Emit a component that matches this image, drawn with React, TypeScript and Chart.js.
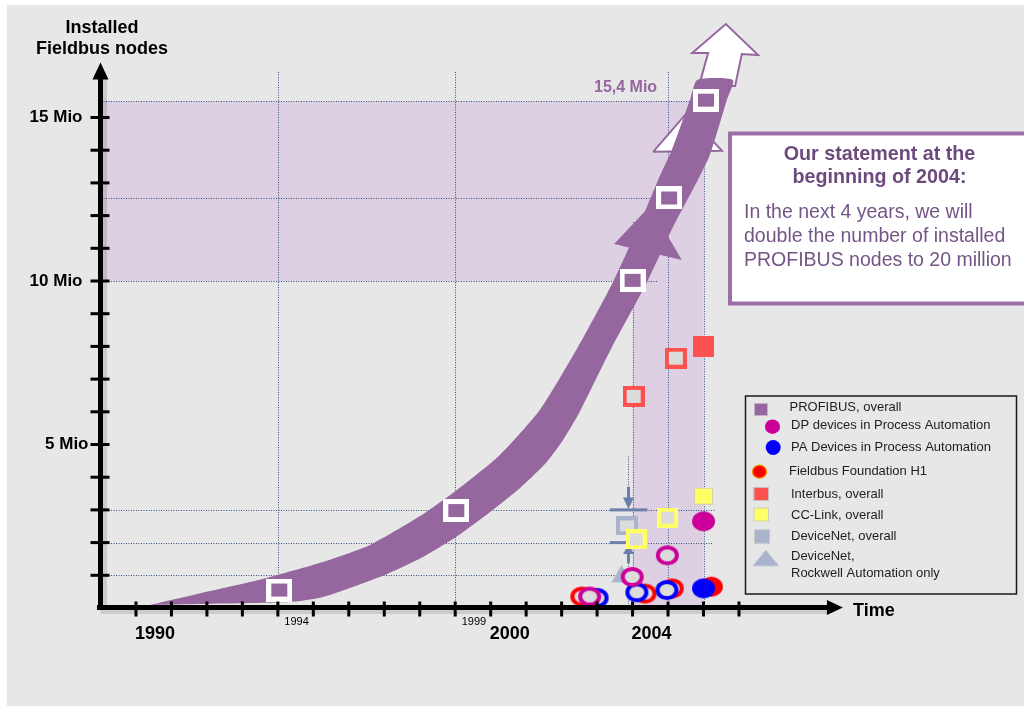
import React, { useEffect, useRef } from 'react';
import { Chart, registerables } from 'chart.js';

Chart.register(...registerables);

const W = 1024;
const H = 713;

// ---------------- data ----------------
const profibusYears = [1994.04, 1999.03, 2004.0, 2005.03, 2006.07];
const profibusNodes = [0.55, 2.98, 10.02, 12.54, 15.53];

const interbusYears = [2004.03, 2005.22, 2006.0];
const interbusNodes = [6.47, 7.64, 8.0];

const ccLinkYears = [2004.1, 2004.99, 2006.0];
const ccLinkNodes = [2.1, 2.76, 3.42];

const deviceNetYears = [2003.84];
const deviceNetNodes = [2.51];

const rockwellYears = [2003.69];
const rockwellNodes = [0.96];

const dpYears = [2002.79, 2003.99, 2004.98, 2006.0];
const dpNodes = [0.35, 0.95, 1.61, 2.65];

const paYears = [2003.0, 2004.12, 2004.97, 2006.0];
const paNodes = [0.31, 0.48, 0.55, 0.6];

const ffYears = [2002.57, 2004.35, 2005.12, 2006.22];
const ffNodes = [0.35, 0.44, 0.6, 0.65];

// growth arrow (band) outline: upper edge bottom->top, lower edge top->bottom
const bandUpperYears = [1990.39, 1992.09, 1993.69, 1995.19, 1996.6, 1998.01, 1999.05, 2000.26, 2001.39, 2002.46, 2003.45, 2004.21, 2004.72, 2005.11, 2005.62, 2005.82];
const bandUpperNodes = [0.09, 0.52, 0.92, 1.38, 1.93, 2.81, 3.61, 4.68, 6.06, 7.98, 9.97, 11.77, 13.09, 14.01, 15.54, 16.15];
const bandLowerYears = [2006.83, 2006.66, 2006.18, 2005.84, 2005.14, 2004.41, 2003.42, 2002.52, 2002.04, 2001.53, 2000.83, 2000.06, 1999.02, 1998.09, 1997.08, 1996.03, 1995.19, 1994.34, 1991.8, 1990.39];
const bandLowerNodes = [16.15, 15.54, 13.85, 13.09, 11.65, 9.97, 7.98, 6.02, 5.14, 4.4, 3.67, 3.0, 2.17, 1.56, 1.04, 0.61, 0.31, 0.18, 0.12, 0.09];

// white arrow tip on top of the band
const tipYears = [2005.87, 2006.13, 2005.68, 2006.63, 2007.54, 2007.08, 2006.89, 2005.87];
const tipNodes = [15.96, 16.97, 16.97, 17.86, 16.91, 16.94, 15.96, 15.96];

// target arrowheads hidden behind the band
const targetHeadYears = [2004.58, 2005.53, 2006.52, 2004.58];
const targetHeadNodes = [13.95, 15.14, 13.98, 13.95];
const innerHeadYears = [2003.48, 2004.49, 2005.39, 2003.48];
const innerHeadNodes = [11.13, 12.29, 10.64, 11.13];

// axes / guides
const xTickYears = [1990, 1991, 1992, 1993, 1994, 1995, 1996, 1997, 1998, 1999, 2000, 2001, 2002, 2003, 2004, 2005, 2006, 2007];
const yTickValues = [1, 2, 3, 4, 5, 6, 7, 8, 9, 10, 11, 12, 13, 14, 15];
const yLabelValues = [5, 10, 15];
const yLabelTexts = ['5 Mio', '10 Mio', '15 Mio'];
const bigYearValues = [1990, 2000, 2004];
const bigYearTexts = ['1990', '2000', '2004'];
const smallYearValues = [1994, 1999];
const smallYearTexts = ['1994', '1999'];
const hGuideValues = [15.5, 12.55, 10, 3, 2, 1];
const hGuideEnds = [2006.0, 2005.0, 2004.72, 2006.32, 2006.27, 2003.7];
const vGuideYears = [1994, 1999, 2004, 2005, 2006];
const vGuideTops = [16.39, 16.39, 11.8, 16.39, 15.5];
const peakLabel = '15,4 Mio';
const deviceNetSpanYear = 2003.88;
const deviceNetSpan = [2.0, 3.0];

const legendLabels = [
  'PROFIBUS, overall',
  'DP devices in Process Automation',
  'PA Devices in Process Automation',
  'Fieldbus Foundation H1',
  'Interbus, overall',
  'CC-Link, overall',
  'DeviceNet, overall',
  'DeviceNet,',
  'Rockwell Automation only',
];
const statementTitle = ['Our statement at the', 'beginning of 2004:'];
const statementBody = ['In the next 4 years, we will', 'double the number of installed', 'PROFIBUS nodes to 20 million'];

// ---------------- styles ----------------
const BG = '#e7e7e7';
const PURPLE = '#96679f';
const SHADE = '#ddd0e3';
const GRID = '#34507f';
const STEEL = '#6b7fa9';
const IB = '#ff5050';
const CC = '#ffff66';
const DN = '#a9b3cc';
const DP = '#cc0099';
const PA = '#0000ff';
const FF = '#ff0000';
const HOLLOW = '#dcdcdc';
const FONT = '"Liberation Sans", Arial, Helvetica, sans-serif';

const zip = (xs: number[], ys: number[]) => xs.map((x, i) => ({ x, y: ys[i] }));

function makeEllipse(w: number, h: number, fill: string, stroke: string | null, lw: number) {
  const c = document.createElement('canvas');
  c.width = w + 2;
  c.height = h + 2;
  const g = c.getContext('2d')!;
  const inset = stroke ? lw / 2 : 0;
  g.beginPath();
  g.ellipse(c.width / 2, c.height / 2, w / 2 - inset, h / 2 - inset, 0, 0, Math.PI * 2);
  g.fillStyle = fill;
  g.fill();
  if (stroke) {
    g.lineWidth = lw;
    g.strokeStyle = stroke;
    g.stroke();
  }
  return c;
}

function makeBox(w: number, h: number, fill: string, stroke: string | null, lw: number) {
  const c = document.createElement('canvas');
  c.width = w;
  c.height = h;
  const g = c.getContext('2d')!;
  g.fillStyle = fill;
  g.fillRect(0, 0, w, h);
  if (stroke) {
    g.strokeStyle = stroke;
    g.lineWidth = lw;
    g.strokeRect(lw / 2, lw / 2, w - lw, h - lw);
  }
  return c;
}

const lastFilled = (n: number, hollow: any, filled: any) =>
  Array.from({ length: n }, (_, i) => (i === n - 1 ? filled : hollow));

const decor = {
  id: 'decor',
  beforeDraw(chart: any) {
    const ctx = chart.ctx;
    ctx.save();
    ctx.fillStyle = '#ffffff';
    ctx.fillRect(0, 0, W, H);
    ctx.fillStyle = BG;
    ctx.fillRect(7, 5, W - 7, 701);
    ctx.restore();
  },
  beforeDatasetsDraw(chart: any) {
    const ctx = chart.ctx;
    const xs = chart.scales.x;
    const ys = chart.scales.y;
    const px = (v: number) => xs.getPixelForValue(v);
    const py = (v: number) => ys.getPixelForValue(v);
    ctx.save();
    // shaded regions
    ctx.fillStyle = SHADE;
    ctx.fillRect(px(1989) + 2, py(15.5), px(2006) - px(1989) - 2, py(10) - py(15.5));
    ctx.fillRect(px(2004), py(15.5), px(2006) - px(2004), py(0) - py(15.5));
    // dotted guides
    ctx.strokeStyle = GRID;
    ctx.lineWidth = 1;
    ctx.setLineDash([1, 1.5]);
    hGuideValues.forEach((v, i) => {
      const y = Math.round(py(v)) + 0.5;
      ctx.beginPath();
      ctx.moveTo(px(1989) + 3, y);
      ctx.lineTo(px(hGuideEnds[i]), y);
      ctx.stroke();
    });
    vGuideYears.forEach((yr, i) => {
      const x = Math.round(px(yr)) + 0.5;
      ctx.beginPath();
      ctx.moveTo(x, py(vGuideTops[i]));
      ctx.lineTo(x, py(0));
      ctx.stroke();
    });
    // DeviceNet range annotation
    const dx = Math.round(px(deviceNetSpanYear)) + 0.5;
    ctx.beginPath();
    ctx.moveTo(dx, py(4.63));
    ctx.lineTo(dx, py(3.71));
    ctx.moveTo(dx, py(1.37));
    ctx.lineTo(dx, py(0.04));
    ctx.stroke();
    ctx.setLineDash([]);
    ctx.strokeStyle = STEEL;
    ctx.fillStyle = STEEL;
    ctx.lineWidth = 3;
    ctx.beginPath();
    ctx.moveTo(dx, py(3.71));
    ctx.lineTo(dx, py(3.36));
    ctx.moveTo(dx, py(1.67));
    ctx.lineTo(dx, py(1.37));
    ctx.stroke();
    ctx.beginPath();
    ctx.moveTo(dx - 5.5, py(3.38));
    ctx.lineTo(dx + 5.5, py(3.38));
    ctx.lineTo(dx, py(deviceNetSpan[1]) - 1);
    ctx.closePath();
    ctx.fill();
    ctx.beginPath();
    ctx.moveTo(dx - 5.5, py(1.65));
    ctx.lineTo(dx + 5.5, py(1.65));
    ctx.lineTo(dx, py(deviceNetSpan[0]) + 2);
    ctx.closePath();
    ctx.fill();
    ctx.fillRect(px(2003.36), py(deviceNetSpan[1]) - 1.5, px(2004.42) - px(2003.36), 3);
    ctx.fillRect(px(2003.36), py(deviceNetSpan[0]) - 1.5, px(2004.0) - px(2003.36), 3);
    ctx.restore();
  },
  afterDatasetsDraw(chart: any) {
    const ctx = chart.ctx;
    const xs = chart.scales.x;
    const ys = chart.scales.y;
    const px = (v: number) => xs.getPixelForValue(v);
    const py = (v: number) => ys.getPixelForValue(v);
    const ax = px(1989);
    const ay = py(0) - 0.5;
    const tipX = px(2009.93);
    ctx.save();
    // shadows
    ctx.fillStyle = 'rgba(0,0,0,0.12)';
    ctx.fillRect(ax + 2.5, py(16.2), 4, ay - py(16.2));
    ctx.fillRect(ax, ay + 2.5, tipX - 16 - ax, 4);
    // axes
    ctx.fillStyle = '#000';
    ctx.fillRect(ax - 2.5, py(16.2), 5, ay - py(16.2) + 2.5);
    ctx.beginPath();
    ctx.moveTo(ax, py(16.68));
    ctx.lineTo(ax - 8, py(16.68) + 17);
    ctx.lineTo(ax + 8, py(16.68) + 17);
    ctx.closePath();
    ctx.fill();
    ctx.fillRect(97, ay - 2.5, tipX - 15 - 97, 5);
    ctx.beginPath();
    ctx.moveTo(tipX, ay);
    ctx.lineTo(tipX - 16, ay - 7.5);
    ctx.lineTo(tipX - 16, ay + 7.5);
    ctx.closePath();
    ctx.fill();
    yTickValues.forEach((v) => ctx.fillRect(ax - 10, py(v) - 1.5, 19, 3));
    xTickYears.forEach((yr) => ctx.fillRect(px(yr) - 1.5, ay - 6, 3, 15));
    // axis labels
    ctx.textBaseline = 'middle';
    ctx.font = `bold 17px ${FONT}`;
    ctx.textAlign = 'right';
    yLabelValues.forEach((v, i) => ctx.fillText(yLabelTexts[i], i === 0 ? ax - 12 : ax - 18, py(v)));
    ctx.textAlign = 'left';
    ctx.font = `bold 18px ${FONT}`;
    bigYearValues.forEach((v, i) => ctx.fillText(bigYearTexts[i], px(v) - 1, 634));
    ctx.font = `11px ${FONT}`;
    smallYearValues.forEach((v, i) => ctx.fillText(smallYearTexts[i], px(v) + 6.5, 621.5));
    ctx.font = `bold 18px ${FONT}`;
    ctx.fillText('Time', 853, 611.5);
    ctx.textAlign = 'center';
    ctx.fillText('Installed', 102, 28);
    ctx.fillText('Fieldbus nodes', 102, 49);
    ctx.textAlign = 'left';
    ctx.fillStyle = PURPLE;
    ctx.font = `bold 16px ${FONT}`;
    ctx.fillText(peakLabel, 594, 88);
    ctx.restore();
  },
  afterDraw(chart: any) {
    const ctx = chart.ctx;
    ctx.save();
    // statement box
    ctx.fillStyle = '#ffffff';
    ctx.fillRect(730, 133.5, 300, 170);
    ctx.strokeStyle = '#9b70a8';
    ctx.lineWidth = 4;
    ctx.strokeRect(730, 133.5, 300, 170);
    ctx.textBaseline = 'middle';
    ctx.textAlign = 'center';
    ctx.fillStyle = '#6d4a7d';
    ctx.font = `bold 19.7px ${FONT}`;
    ctx.fillText(statementTitle[0], 879.5, 155);
    ctx.fillText(statementTitle[1], 879.5, 178);
    ctx.textAlign = 'left';
    ctx.fillStyle = '#735686';
    ctx.font = `19.5px ${FONT}`;
    statementBody.forEach((t, i) => ctx.fillText(t, 744, 213 + i * 24));

    // legend box
    ctx.strokeStyle = '#1a1a1a';
    ctx.lineWidth = 1.5;
    ctx.strokeRect(745.5, 396, 271, 198);
    // markers
    ctx.fillStyle = PURPLE;
    ctx.fillRect(754, 403, 14, 13);
    ctx.strokeStyle = '#c4b2ca';
    ctx.lineWidth = 1;
    ctx.strokeRect(754.5, 403.5, 13, 12);
    const dot = (x: number, y: number, rx: number, ry: number, c: string, s?: string) => {
      ctx.beginPath();
      ctx.ellipse(x, y, rx, ry, 0, 0, Math.PI * 2);
      ctx.fillStyle = c;
      ctx.fill();
      if (s) {
        ctx.strokeStyle = s;
        ctx.lineWidth = 1.3;
        ctx.stroke();
      }
    };
    dot(772.5, 426.7, 7.5, 7.3, DP);
    dot(773.2, 447.5, 7.5, 7.5, PA);
    dot(759.5, 471.7, 7, 6.5, FF, '#f08c00');
    const sq = (x: number, y: number, w: number, h: number, c: string) => {
      ctx.fillStyle = c;
      ctx.fillRect(x, y, w, h);
      ctx.strokeStyle = 'rgba(200,200,200,0.9)';
      ctx.lineWidth = 1;
      ctx.strokeRect(x + 0.5, y + 0.5, w - 1, h - 1);
    };
    sq(753.5, 487, 15.5, 14, IB);
    sq(753.5, 507.5, 15.5, 14, CC);
    sq(754, 529.5, 16, 14, DN);
    ctx.beginPath();
    ctx.moveTo(752.7, 566);
    ctx.lineTo(765.8, 550);
    ctx.lineTo(779, 566);
    ctx.closePath();
    ctx.fillStyle = DN;
    ctx.fill();
    ctx.strokeStyle = '#c9cedc';
    ctx.stroke();
    // texts
    ctx.fillStyle = '#1e1e1e';
    ctx.font = `13px ${FONT}`;
    ctx.textAlign = 'left';
    ctx.textBaseline = 'middle';
    const pos = [
      [789.5, 407.5],
      [791, 425.5],
      [791, 447],
      [789, 471],
      [791, 494],
      [791, 515],
      [791, 536.5],
      [791, 556.5],
      [791, 573],
    ];
    legendLabels.forEach((t, i) => ctx.fillText(t, pos[i][0], pos[i][1]));
    ctx.restore();
  },
};

export default function App() {
  const ref = useRef<HTMLCanvasElement>(null);
  useEffect(() => {
    const profibusStyle = makeBox(26, 23, PURPLE, '#ffffff', 5);
    const ibHollow = makeBox(22, 21, HOLLOW, IB, 4);
    const ibFilled = makeBox(21, 21, IB, null, 0);
    const ccHollow = makeBox(21, 20, HOLLOW, CC, 4);
    const ccFilled = makeBox(19, 17, CC, '#d2d2b0', 1);
    const dnHollow = makeBox(22, 19, HOLLOW, DN, 4);
    const ring = (c: string) => makeEllipse(23, 20, HOLLOW, c, 4);
    const disc = (c: string) => makeEllipse(23, 20, c, null, 0);

    const shape = (xs: number[], ys: number[], bg: string, border: string, bw: number, order: number, tension = 0) => ({
      data: zip(xs, ys),
      showLine: true,
      fill: 'shape',
      backgroundColor: bg,
      borderColor: border,
      borderWidth: bw,
      pointRadius: 0,
      tension,
      order,
      clip: false,
    });
    const points = (xs: number[], ys: number[], style: any, order: number) => ({
      data: zip(xs, ys),
      showLine: false,
      pointStyle: style,
      pointRadius: 10,
      order,
      clip: false,
    });

    const chart = new Chart(ref.current!, {
      type: 'line',
      data: {
        datasets: [
          shape(innerHeadYears, innerHeadNodes, PURPLE, PURPLE, 0, 20),
          shape(targetHeadYears, targetHeadNodes, '#ffffff', PURPLE, 2, 19),
          shape(tipYears, tipNodes, '#ffffff', PURPLE, 2, 18),
          shape([...bandUpperYears, ...bandLowerYears], [...bandUpperNodes, ...bandLowerNodes], PURPLE, PURPLE, 0, 17, 0.2),
          points(profibusYears, profibusNodes, profibusStyle, 16),
          points(interbusYears, interbusNodes, lastFilled(interbusYears.length, ibHollow, ibFilled), 15),
          points(deviceNetYears, deviceNetNodes, dnHollow, 14),
          {
            data: zip(rockwellYears, rockwellNodes),
            showLine: false,
            pointStyle: 'triangle',
            pointRadius: 11.5,
            backgroundColor: DN,
            borderColor: '#c9cedc',
            borderWidth: 1,
            order: 13,
            clip: false,
          },
          points(ccLinkYears, ccLinkNodes, lastFilled(ccLinkYears.length, ccHollow, ccFilled), 12),
          points(ffYears, ffNodes, lastFilled(ffYears.length, ring(FF), disc(FF)), 11),
          points(paYears, paNodes, lastFilled(paYears.length, ring(PA), disc(PA)), 10),
          points(dpYears, dpNodes, lastFilled(dpYears.length, ring(DP), disc(DP)), 9),
        ] as any,
      },
      options: {
        animation: false,
        responsive: false,
        maintainAspectRatio: false,
        events: [],
        layout: { autoPadding: false, padding: { left: 100.5, right: 1.25, top: 19.4, bottom: 105 } },
        scales: {
          x: { type: 'linear', min: 1989, max: 2015, display: false },
          y: { type: 'linear', min: 0, max: 18, display: false },
        },
        plugins: { legend: { display: false }, tooltip: { enabled: false } },
      } as any,
      plugins: [decor],
    });
    return () => chart.destroy();
  }, []);
  return (
    <div style={{ position: 'fixed', left: 0, top: 0, width: W, height: H, background: '#fff' }}>
      <canvas ref={ref} width={W} height={H} style={{ display: 'block', width: W, height: H }} />
    </div>
  );
}
